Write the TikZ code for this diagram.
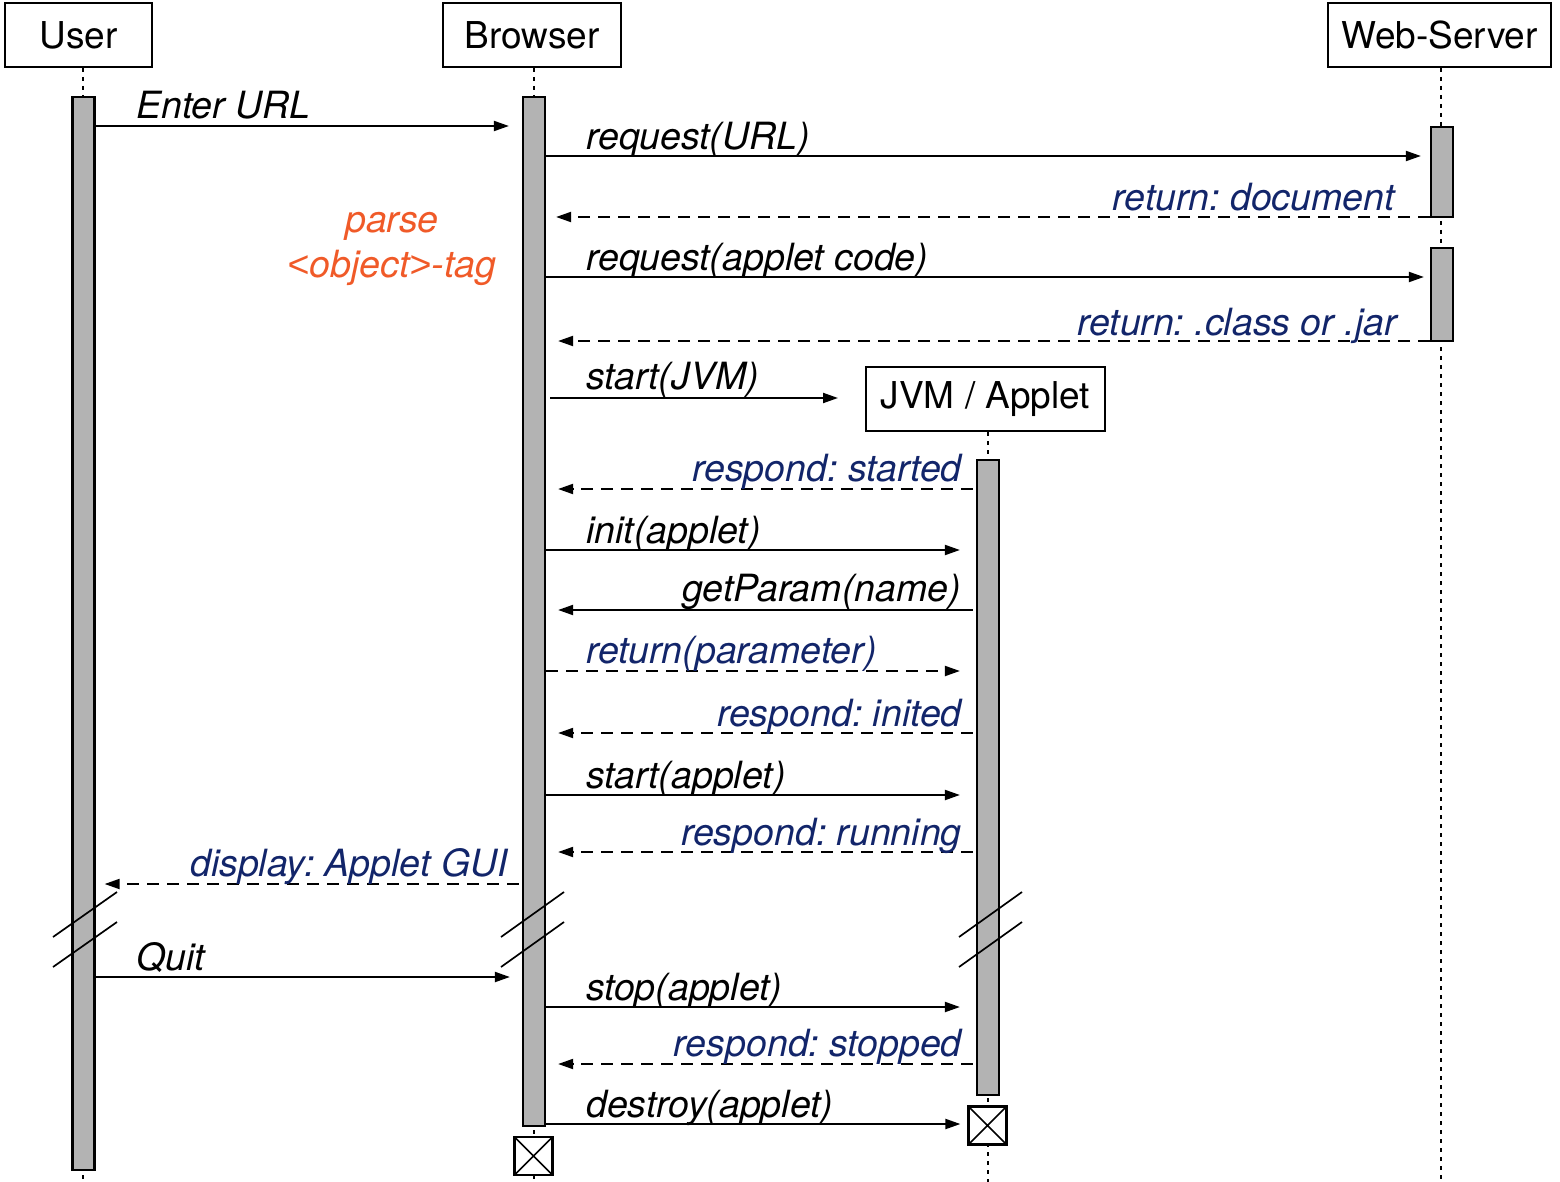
\documentclass[tikz,border=0pt]{standalone}
\usepackage{fontspec}
\setmainfont{TeX Gyre Heros}
\newfontfamily\anglefont{Liberation Sans}
\usetikzlibrary{arrows.meta}
\definecolor{retblue}{RGB}{18,37,106}
\definecolor{noteorange}{RGB}{240,90,40}
\definecolor{barfill}{RGB}{179,179,179}
\frenchspacing
\begin{document}
\begin{tikzpicture}[x=1pt,y=-1pt,
  head/.style={draw, line width=2pt, fill=white, minimum height=64pt, inner sep=0pt,
    font=\fontsize{37}{40}\selectfont},
  actbar/.style={draw, line width=2.2pt, fill=barfill, minimum width=22pt, inner sep=0pt},
  lifeline/.style={line width=1.7pt, dash pattern=on 4pt off 5pt},
  call/.style={line width=2pt, -{Triangle[length=15pt,width=10pt]}},
  reply/.style={call, dash pattern=on 12pt off 8pt},
  lbl/.style={font=\fontsize{37.5}{40}\selectfont\itshape, inner sep=0pt},
  rlbl/.style={lbl, text=retblue},
  breakmark/.style={line width=1.7pt},
  killbox/.style={draw, line width=2.2pt, fill=white, minimum size=38pt, inner sep=0pt,
    path picture={\draw[line width=1.7pt]
      (path picture bounding box.south west) -- (path picture bounding box.north east)
      (path picture bounding box.north west) -- (path picture bounding box.south east);}}
]
\useasboundingbox (0,0) rectangle (1560,1182);

% participants
\node[head, minimum width=147pt] (user) at (78.5,35) {User};
\node[head, minimum width=178pt] (browser) at (532,35) {Browser};
\node[head, minimum width=223pt] (server) at (1439.5,35) {Web-Server};
\node[head, minimum width=239pt] (jvm) at (985.5,399) {JVM / Applet};

% lifelines
\coordinate (ubot) at (83,1182);
\coordinate (bbot) at (534,1182);
\coordinate (sbot) at (1441,1182);
\coordinate (jbot) at (988,1182);
\draw[lifeline] (user.south -| ubot) -- (ubot);
\draw[lifeline] (browser.south -| bbot) -- (bbot);
\draw[lifeline] (server.south -| sbot) -- (sbot);
\draw[lifeline] (jvm.south -| jbot) -- (jbot);

% activation bars
\node[actbar, minimum height=1073pt] (ubar) at (83.5,633.5) {};
\node[actbar, minimum height=1029pt] (bbar) at (534,611.5) {};
\node[actbar, minimum height=90pt] (sbarA) at (1442,172) {};
\node[actbar, minimum height=93pt] (sbarB) at (1442,294.5) {};
\node[actbar, minimum height=635pt] (jbar) at (988,777.5) {};

% destruction marks
\node[killbox] (bkill) at (533.5,1156) {};
\node[killbox] (jkill) at (987.5,1125.5) {};

% message rows
\coordinate (r1) at (0,126);
\coordinate (r2) at (0,156);
\coordinate (r3) at (0,217);
\coordinate (r4) at (0,277);
\coordinate (r5) at (0,341);
\coordinate (r6) at (0,398);
\coordinate (r7) at (0,489);
\coordinate (r8) at (0,550);
\coordinate (r9) at (0,610);
\coordinate (r10) at (0,671);
\coordinate (r11) at (0,733);
\coordinate (r12) at (0,795);
\coordinate (r13) at (0,852);
\coordinate (r14) at (0,884);
\coordinate (r15) at (0,977);
\coordinate (r16) at (0,1007);
\coordinate (r17) at (0,1064);
\coordinate (r18) at (0,1124);

% messages
\draw[call, shorten >=13pt] (ubar.east |- r1) -- (bbar.west |- r1);
\draw[call, shorten >=9pt] (bbar.east |- r2) -- (sbarA.west |- r2);
\draw[reply, shorten >=10pt] (sbarA.west |- r3) -- (bbar.east |- r3);
\draw[call, shorten >=6pt] (bbar.east |- r4) -- (sbarB.west |- r4);
\draw[reply, shorten >=12pt] (sbarB.west |- r5) -- (bbar.east |- r5);
\draw[call, shorten <=4pt, shorten >=27pt] (bbar.east |- r6) -- (jvm.west |- r6);
\draw[reply, shorten <=3pt, shorten >=12pt] (jbar.west |- r7) -- (bbar.east |- r7);
\draw[call, shorten >=16pt] (bbar.east |- r8) -- (jbar.west |- r8);
\draw[call, shorten <=3pt, shorten >=12pt] (jbar.west |- r9) -- (bbar.east |- r9);
\draw[reply, shorten >=16pt] (bbar.east |- r10) -- (jbar.west |- r10);
\draw[reply, shorten <=3pt, shorten >=12pt] (jbar.west |- r11) -- (bbar.east |- r11);
\draw[call, shorten >=16pt] (bbar.east |- r12) -- (jbar.west |- r12);
\draw[reply, shorten <=3pt, shorten >=12pt] (jbar.west |- r13) -- (bbar.east |- r13);
\draw[reply, shorten <=3pt, shorten >=9pt] (bbar.west |- r14) -- (ubar.east |- r14);
\draw[call, shorten >=12pt] (ubar.east |- r15) -- (bbar.west |- r15);
\draw[call, shorten >=16pt] (bbar.east |- r16) -- (jbar.west |- r16);
\draw[reply, shorten <=3pt, shorten >=12pt] (jbar.west |- r17) -- (bbar.east |- r17);
\draw[call, shorten >=7pt] (bbar.east |- r18) -- (jkill.west |- r18);

% message labels
\node[lbl, anchor=base west] (t1) at (136,119) {Enter URL};
\node[lbl, anchor=base west] (t2) at (586,150) {request(URL)};
\node[rlbl, anchor=base east] (t3) at (1395,211) {return: document};
\node[lbl, anchor=base west] (t4) at (586,271) {request(applet code)};
\node[rlbl, anchor=base east] (t5) at (1397,335) {return: .class or .jar};
\node[lbl, anchor=base west] (t6) at (586,389) {start(JVM)};
\node[rlbl, anchor=base east] (t7) at (962,481) {respond: started};
\node[lbl, anchor=base west] (t8) at (586,543) {init(applet)};
\node[lbl, anchor=base east] (t9) at (961,601) {getParam(name)};
\node[rlbl, anchor=base west] (t10) at (586,663) {return(parameter)};
\node[rlbl, anchor=base east] (t11) at (962,726) {respond: inited};
\node[lbl, anchor=base west] (t12) at (586,788) {start(applet)};
\node[rlbl, anchor=base east] (t13) at (962,845) {respond: running};
\node[rlbl, anchor=base east] (t14) at (508,876) {display: Applet GUI};
\node[lbl, anchor=base west] (t15) at (136,970) {Quit};
\node[lbl, anchor=base west] (t16) at (586,1000) {stop(applet)};
\node[rlbl, anchor=base east] (t17) at (962,1056) {respond: stopped};
\node[lbl, anchor=base west] (t18) at (586,1117) {destroy(applet)};

% note
\node[lbl, text=noteorange, anchor=base] (note1) at (392,233) {parse};
\node[lbl, text=noteorange, anchor=base] (note2) at (392,277)
  {{\anglefont\itshape <}object{\anglefont\itshape >}-tag};

% time breaks
\draw[breakmark] (53,937) -- (117,892) (53,967) -- (117,922);
\draw[breakmark] (501,937) -- (564,892) (501,967) -- (564,922);
\draw[breakmark] (959,937) -- (1022,892) (959,967) -- (1022,922);
\end{tikzpicture}
\end{document}
